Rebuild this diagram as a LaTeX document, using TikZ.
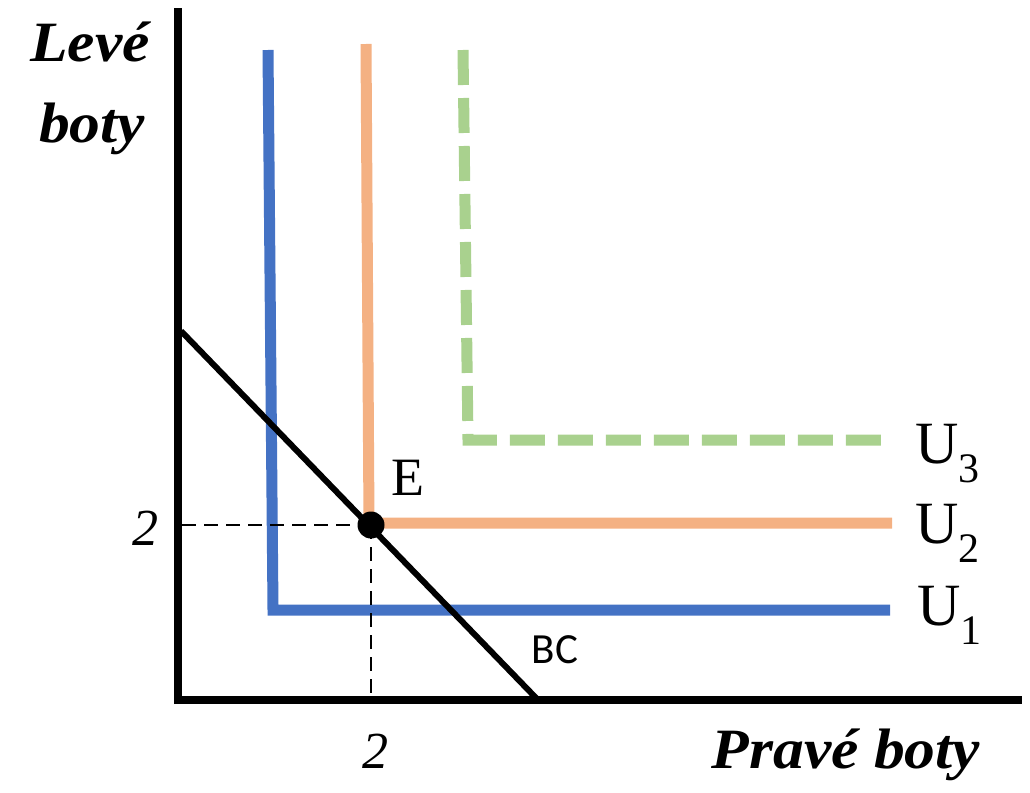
\documentclass[tikz,border=0pt]{standalone}
\usepackage{fontspec}
\setmainfont{Liberation Serif}
\newfontfamily\labfont[FakeStretch=1.08]{Liberation Serif}
\newfontfamily\bcfont{Carlito}
\definecolor{ublue}{HTML}{4472C4}
\definecolor{uorange}{HTML}{F4B183}
\definecolor{ugreen}{HTML}{A9D18E}
\begin{document}
\begin{tikzpicture}[x=1pt,y=-1pt,
  axis/.style={line width=8pt,black},
  curve/.style={line width=11pt,line join=miter},
  guide/.style={line width=2.6pt,dash pattern=on 14pt off 8pt},
  axlab/.style={font=\labfont\bfseries\itshape\fontsize{57}{59}\selectfont,inner sep=0pt,align=center},
  ulab/.style={font=\fontsize{60}{62}\selectfont,inner sep=0pt,anchor=base west},
  tick/.style={font=\itshape\fontsize{52}{54}\selectfont,inner sep=0pt,anchor=base}]
\useasboundingbox (0,0) rectangle (1030,792);
% axes
\coordinate (O) at (178,700);
\coordinate (ytop) at (178,8);
\coordinate (xend) at (1022,700);
\draw[axis] (178,704) -- (ytop);
\draw[axis] (174,700) -- (xend);
% indifference curves
\coordinate (b1) at (268,50);
\coordinate (b2) at (273,610);
\coordinate (b3) at (890,610);
\draw[curve,ublue] (b1) -- (b2) -- (b3);
\coordinate (o1) at (366,44);
\coordinate (o2) at (369,523);
\coordinate (o3) at (892,523);
\draw[curve,uorange] (o1) -- (o2) -- (o3);
\coordinate (g1) at (463,50);
\coordinate (g2) at (468,440);
\coordinate (g3) at (888,440);
\draw[curve,ugreen,dash pattern=on 35pt off 13pt] (g1) -- (g2) -- (g3);
% budget line
\coordinate (bcA) at (181,331);
\coordinate (bcB) at (538,700);
\draw[line width=6pt,line cap=butt] (bcA) -- (bcB);
% guides
\node[circle,fill=black,minimum size=27pt,inner sep=0pt] (E) at (371,525) {};
\coordinate (gy) at (182,525);
\coordinate (gx) at (371,696);
\draw[guide] (gy) -- (E.center);
\draw[guide] (E.center) -- (gx);
% labels
\node[font=\fontsize{54}{56}\selectfont,inner sep=0pt,anchor=base] (Elab) at (408,495) {E};
\node[ulab] (u3) at (915,463) {U\textsubscript{3}};
\node[ulab] (u2) at (915,543) {U\textsubscript{2}};
\node[ulab] (u1) at (917,625) {U\textsubscript{1}};
\node[font=\bcfont\fontsize{43}{45}\selectfont,inner sep=0pt,anchor=base] (bc) at (555,663) {BC};
\node[tick] (ty) at (145,545) {2};
\node[tick] (tx) at (375,768) {2};
\node[axlab,anchor=base] (yl1) at (90,62) {Levé};
\node[axlab,anchor=base] (yl2) at (92,142) {boty};
\node[axlab,anchor=base] (xl) at (846,768) {Pravé boty};
\end{tikzpicture}
\end{document}
